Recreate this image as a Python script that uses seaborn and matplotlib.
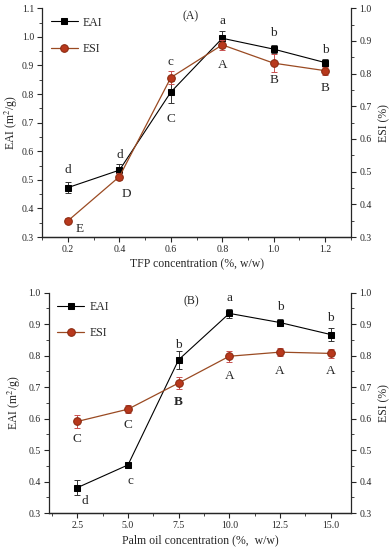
import matplotlib
matplotlib.use("Agg")
import matplotlib.pyplot as plt
import seaborn as sns
from matplotlib.ticker import MultipleLocator

# panel A: TFP concentration
tfp = [0.2, 0.4, 0.6, 0.8, 1.0, 1.2]
eai_a = [0.473, 0.534, 0.807, 0.995, 0.957, 0.910]
eai_a_err = [0.018, 0.02, 0.04, 0.027, 0.015, 0.012]
esi_a = [0.350, 0.485, 0.788, 0.888, 0.832, 0.809]
esi_a_err = [0.008, 0.01, 0.02, 0.015, 0.028, 0.012]
eai_a_letters = ["d", "d", "c", "a", "b", "b"]
esi_a_letters = ["E", "D", "C", "A", "B", "B"]

# panel B: palm oil concentration
palm = [2.5, 5.0, 7.5, 10.0, 12.5, 15.0]
eai_b = [0.381, 0.453, 0.787, 0.934, 0.905, 0.867]
eai_b_err = [0.024, 0.006, 0.028, 0.015, 0.01, 0.02]
esi_b = [0.591, 0.630, 0.713, 0.798, 0.811, 0.807]
esi_b_err = [0.02, 0.012, 0.02, 0.018, 0.012, 0.015]
eai_b_letters = ["d", "c", "b", "a", "b", "b"]
esi_b_letters = ["C", "C", "B", "A", "A", "A"]

sns.set_style("ticks")
plt.rcParams["font.family"] = ["Liberation Serif", "DejaVu Serif"]
plt.rcParams["mathtext.fontset"] = "stix"

ESI_LINE = "#9a4a22"
ESI_FACE = "#b8381c"
ESI_ERR = "#c85050"

fig = plt.figure(figsize=(3.92, 5.5), dpi=100)
ax_a = fig.add_axes([0.108, 0.569, 0.787, 0.416])
ax_b = fig.add_axes([0.125, 0.067, 0.770, 0.401])


def draw(ax, x, eai, eai_err, esi, esi_err, eai_off, esi_off, eai_lab, esi_lab,
         xlim, ylim, xmaj, xmin, xlabel, tag, tag_pos, ypad, bold_upper=None):
    ax2 = ax.twinx()
    ax.errorbar(x, eai, yerr=eai_err, fmt="none", ecolor="#333333", elinewidth=0.7,
                capsize=2, capthick=0.7, zorder=3)
    sns.lineplot(x=x, y=eai, ax=ax, color="black", lw=0.8, marker="s", markersize=5,
                 markeredgecolor="black", label="EAI", legend=False, zorder=4)
    ax2.errorbar(x, esi, yerr=esi_err, fmt="none", ecolor=ESI_ERR, elinewidth=0.7,
                 capsize=2, capthick=0.7, zorder=3)
    sns.lineplot(x=x, y=esi, ax=ax2, color=ESI_LINE, lw=0.9, marker="o", markersize=5.5,
                 markerfacecolor=ESI_FACE, markeredgecolor="#8a2a10", label="ESI",
                 legend=False, zorder=4)

    for i, (xi, yi) in enumerate(zip(x, eai)):
        ax.annotate(eai_lab[i], (xi, yi), xytext=eai_off[i], textcoords="offset pixels",
                    ha="center", va="center", fontsize=9.5)
    for i, (xi, yi) in enumerate(zip(x, esi)):
        ax2.annotate(esi_lab[i], (xi, yi), xytext=esi_off[i], textcoords="offset pixels",
                     ha="center", va="center", fontsize=9.5,
                     fontweight="bold" if bold_upper == i else "normal")

    ax.set_xlim(*xlim)
    ax.set_ylim(*ylim)
    ax2.set_ylim(0.3, 1.0)
    ax.xaxis.set_major_locator(MultipleLocator(xmaj))
    ax.xaxis.set_minor_locator(MultipleLocator(xmin))
    ax.yaxis.set_major_locator(MultipleLocator(0.1))
    ax.yaxis.set_minor_locator(MultipleLocator(0.05))
    ax2.yaxis.set_major_locator(MultipleLocator(0.1))
    ax2.yaxis.set_minor_locator(MultipleLocator(0.05))
    for a in (ax, ax2):
        a.tick_params(which="major", direction="out", length=3.5, width=0.8,
                      labelsize=7, pad=2.5)
        a.tick_params(which="minor", direction="out", length=2, width=0.6)
        a.spines["top"].set_visible(False)
        for s in a.spines.values():
            s.set_linewidth(0.9)
    ax.spines["right"].set_visible(False)
    ax2.spines["left"].set_visible(False)
    ax.set_xlabel(xlabel, fontsize=8.5, labelpad=3)
    ax.set_ylabel("EAI (m$^2$/g)", fontsize=8.5, labelpad=ypad)
    ax2.set_ylabel("ESI (%)", fontsize=8.5, labelpad=5)
    ax.text(tag_pos[0], tag_pos[1], tag, transform=ax.transAxes, fontsize=8.5,
            ha="center", va="center")
    h1, l1 = ax.get_legend_handles_labels()
    h2, l2 = ax2.get_legend_handles_labels()
    leg = ax.legend(h1 + h2, l1 + l2, loc="upper left", frameon=False, fontsize=8.5,
                    labelspacing=1.2, handlelength=2.3, handletextpad=0.4,
                    borderaxespad=0.3)
    leg.set_zorder(10)
    return ax2


eai_a_off = [(0, 18), (0, 15), (0, 30), (0, 17), (0, 16), (0, 13)]
esi_a_off = [(12, -8), (7, -17), (0, -41), (0, -20), (0, -17), (0, -17)]
draw(ax_a, tfp, eai_a, eai_a_err, esi_a, esi_a_err, eai_a_off, esi_a_off,
     eai_a_letters, esi_a_letters, (0.1, 1.3), (0.3, 1.1), 0.2, 0.1,
     "TFP concentration (%, w/w)", "(A)", (0.48, 0.965), ypad=1)

eai_b_off = [(7, -13), (2, -16), (0, 15), (0, 15), (0, 16), (0, 17)]
esi_b_off = [(0, -18), (0, -16), (0, -19), (0, -20), (0, -19), (0, -18)]
draw(ax_b, palm, eai_b, eai_b_err, esi_b, esi_b_err, eai_b_off, esi_b_off,
     eai_b_letters, esi_b_letters, (1.1, 16.0), (0.3, 1.0), 2.5, 1.25,
     "Palm oil concentration (%,  w/w)", "(B)", (0.47, 0.96), ypad=4, bold_upper=2)

fig.savefig("out.png", dpi=100)
